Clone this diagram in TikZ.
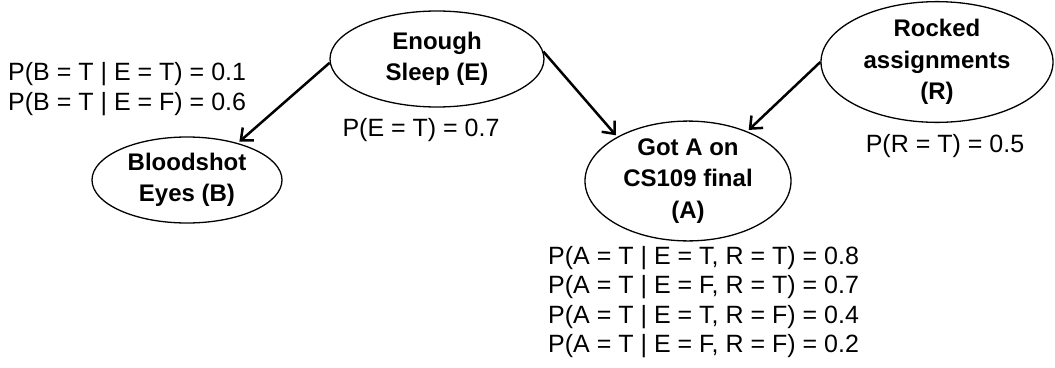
\documentclass[tikz,border=0pt]{standalone}
\usepackage{fontspec}
\setmainfont{Liberation Sans}
\usetikzlibrary{shapes.geometric,arrows.meta}
\begin{document}
\begin{tikzpicture}[x=1pt,y=-1pt,
  var/.style={ellipse,draw,line width=1.3pt,inner sep=0pt,align=center,
    font=\fontsize{24}{31.5}\selectfont\bfseries},
  cpt/.style={inner sep=0pt,align=left,font=\fontsize{25}{29.5}\selectfont},
  edge/.style={line width=2.5pt,-{Straight Barb[length=10pt,width=17pt,line width=2.5pt]}}]
\useasboundingbox (0,0) rectangle (1055,367);
\node[var,minimum width=214pt,minimum height=96pt] (E) at (437,59) {Enough\\Sleep (E)};
\node[var,minimum width=190pt,minimum height=86pt] (B) at (187,180) {Bloodshot\\Eyes (B)};
\node[var,minimum width=206pt,minimum height=104pt] (A) at (688,181) {Got A on\\CS109 final\\(A)};
\node[var,minimum width=232pt,minimum height=106pt] (R) at (937,62) {Rocked\\assignments\\(R)};
\node[cpt,anchor=west] (cB) at (8,89) {P(B = T | E = T) = 0.1\\P(B = T | E = F) = 0.6};
\node[cpt] (cE) at (421,130) {P(E = T) = 0.7};
\node[cpt] (cR) at (945,146) {P(R = T) = 0.5};
\node[cpt,anchor=west] (cA) at (548,302) {P(A = T | E = T, R = T) = 0.8\\P(A = T | E = F, R = T) = 0.7\\P(A = T | E = T, R = F) = 0.4\\P(A = T | E = F, R = F) = 0.2};
\draw[edge,shorten >=2pt] (E.182) -- (B.36);
\draw[edge,shorten >=2pt] (E.4) -- (A.148);
\draw[edge,shorten >=2pt] (R.180) -- (A.40);
\end{tikzpicture}
\end{document}
